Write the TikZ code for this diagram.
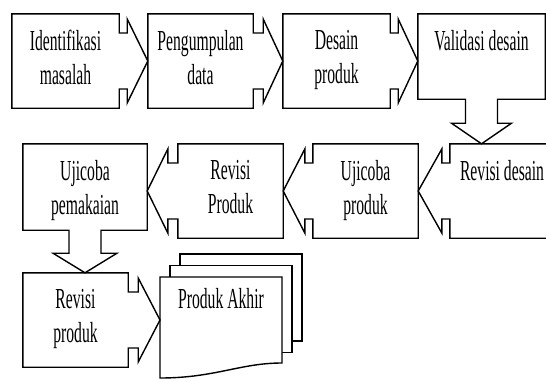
\documentclass[tikz,border=0pt]{standalone}
\usepackage{fontspec}
\newfontfamily\boxfont{Liberation Serif}[FakeStretch=0.54]
\usetikzlibrary{positioning}
\tikzset{
  stage/.style={rectangle, inner sep=0pt},
  stageline/.style={draw, line width=1.4pt, line join=miter},
  page/.style={draw, line width=1.4pt, fill=white},
  lbl/.style={font=\boxfont\fontsize{29}{34}\selectfont, align=center, inner sep=0pt}
}
\begin{document}
\begin{tikzpicture}[x=1pt, y=1pt]
\useasboundingbox (0,0) rectangle (546,-381);
% boxes
\node[stage, minimum width=107pt, minimum height=94pt] (ident) at (65.5,-61) {};
\node[stage, minimum width=105pt, minimum height=94pt] (kumpul) at (200.5,-61) {};
\node[stage, minimum width=107pt, minimum height=94pt] (desain) at (336.5,-61) {};
\node[stage, minimum width=127pt, minimum height=85pt] (validasi) at (481.5,-56.5) {};
\node[stage, minimum width=104pt, minimum height=94pt] (revdesain) at (502,-191) {};
\node[stage, minimum width=105pt, minimum height=94pt] (ujiproduk) at (365.5,-191) {};
\node[stage, minimum width=105pt, minimum height=94pt] (revproduk) at (230.5,-191) {};
\node[stage, minimum width=124pt, minimum height=86pt] (ujipakai) at (85,-187) {};
\node[stage, minimum width=105pt, minimum height=94pt] (revakhir) at (75.5,-320) {};
% pages
\foreach \d in {20,10}{
  \draw[page] ({160+\d},{-277+1.15*\d}) rectangle ++(122,-87);
}
\draw[page] (160,-277) -- (282,-277) -- (282,-363) .. controls (240,-363) and (215,-378) .. (160,-378) -- cycle;
\coordinate (akhir) at (160,-320);
\coordinate (akhirtop) at (221,-277);

% box outlines with their arrows
\draw[stageline] (ident.north west) -- (ident.north east) -- ([yshift=28pt]ident.east) -- ++(8,0) -- ++(0,14)
  -- (kumpul.west) -- ([shift={(8,-42)}]ident.east) -- ++(0,14) -- ([yshift=-28pt]ident.east)
  -- (ident.south east) -- (ident.south west) -- cycle;
\draw[stageline] (kumpul.north west) -- (kumpul.north east) -- ([yshift=28pt]kumpul.east) -- ++(10,0) -- ++(0,14)
  -- (desain.west) -- ([shift={(10,-42)}]kumpul.east) -- ++(0,14) -- ([yshift=-28pt]kumpul.east)
  -- (kumpul.south east) -- (kumpul.south west) -- cycle;
\draw[stageline] (desain.north west) -- (desain.north east) -- ([yshift=28pt]desain.east) -- ++(8,0) -- ++(0,14)
  -- (desain.east -| validasi.west) -- ([shift={(8,-42)}]desain.east) -- ++(0,14) -- ([yshift=-28pt]desain.east)
  -- (desain.south east) -- (desain.south west) -- cycle;
\draw[stageline] (validasi.south west) -- (validasi.north west) -- (validasi.north east) -- (validasi.south east)
  -- ([xshift=16pt]validasi.south) -- ++(0,-24) -- ++(14,0) -- (validasi.south |- revdesain.north)
  -- ([shift={(-30,-24)}]validasi.south) -- ++(14,0) -- ([xshift=-16pt]validasi.south) -- cycle;
\draw[stageline] (revdesain.north east) -- (revdesain.north west) -- ([yshift=28pt]revdesain.west) -- ++(-8,0) -- ++(0,14)
  -- (ujiproduk.east) -- ([shift={(-8,-42)}]revdesain.west) -- ++(0,14) -- ([yshift=-28pt]revdesain.west)
  -- (revdesain.south west) -- (revdesain.south east) -- cycle;
\draw[stageline] (ujiproduk.north east) -- (ujiproduk.north west) -- ([yshift=28pt]ujiproduk.west) -- ++(-8,0) -- ++(0,14)
  -- (revproduk.east) -- ([shift={(-8,-42)}]ujiproduk.west) -- ++(0,14) -- ([yshift=-28pt]ujiproduk.west)
  -- (ujiproduk.south west) -- (ujiproduk.south east) -- cycle;
\draw[stageline] (revproduk.north east) -- (revproduk.north west) -- ([yshift=28pt]revproduk.west) -- ++(-10,0) -- ++(0,14)
  -- (revproduk.west -| ujipakai.east) -- ([shift={(-10,-42)}]revproduk.west) -- ++(0,14) -- ([yshift=-28pt]revproduk.west)
  -- (revproduk.south west) -- (revproduk.south east) -- cycle;
\draw[stageline] (ujipakai.south west) -- (ujipakai.north west) -- (ujipakai.north east) -- (ujipakai.south east)
  -- ([xshift=16pt]ujipakai.south) -- ++(0,-23) -- ++(16,0) -- (ujipakai.south |- revakhir.north)
  -- ([shift={(-32,-23)}]ujipakai.south) -- ++(16,0) -- ([xshift=-16pt]ujipakai.south) -- cycle;
\draw[stageline] (revakhir.north west) -- (revakhir.north east) -- ([yshift=28pt]revakhir.east) -- ++(10,0) -- ++(0,14)
  -- (akhir) -- ([shift={(10,-42)}]revakhir.east) -- ++(0,14) -- ([yshift=-28pt]revakhir.east)
  -- (revakhir.south east) -- (revakhir.south west) -- cycle;

% texts
\node[lbl, below=16pt of ident.north] (identtxt) {Identifikasi\\masalah};
\node[lbl, below=16pt of kumpul.north] (kumpultxt) {Pengumpulan\\data};
\node[lbl, below=16pt of desain.north] (desaintxt) {Desain\\produk};
\node[lbl, below=16pt of validasi.north] (validasitxt) {Validasi desain};
\node[lbl, below=16pt of revdesain.north] (revdesaintxt) {Revisi desain};
\node[lbl, below=16pt of ujiproduk.north] (ujiproduktxt) {Ujicoba\\produk};
\node[lbl, below=16pt of revproduk.north] (revproduktxt) {Revisi\\Produk};
\node[lbl, below=16pt of ujipakai.north] (ujipakaitxt) {Ujicoba\\pemakaian};
\node[lbl, below=16pt of revakhir.north] (revakhirtxt) {Revisi\\produk};
\node[lbl, below=11pt of akhirtop] (akhirtxt) {Produk Akhir};
\end{tikzpicture}
\end{document}
